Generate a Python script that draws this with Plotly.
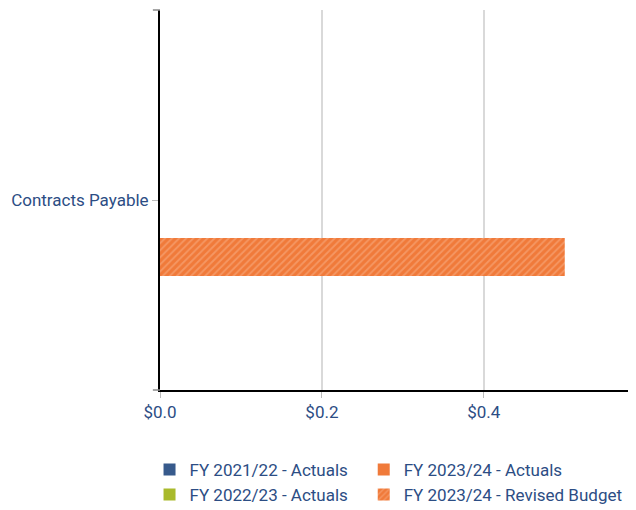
import plotly.graph_objects as go

categories = ["Contracts Payable"]
series_names = ["FY 2021/22 - Actuals", "FY 2022/23 - Actuals", "FY 2023/24 - Actuals", "FY 2023/24 - Revised Budget"]
fy2122_actuals = [0]
fy2223_actuals = [0]
fy2324_actuals = [0]
fy2324_budget = [0.5]

colors = ["#375a8c", "#a9ba2c", "#f07a3a", "#f07a3a"]
legend_ids = ["legend", "legend", "legend2", "legend2"]
values = [fy2122_actuals, fy2223_actuals, fy2324_actuals, fy2324_budget]

FONT = "Roboto"
TXT = "#2c4d84"
FS = 17

fig = go.Figure()
for i, (name, vals) in enumerate(zip(series_names, values)):
    marker = dict(color=colors[i], line=dict(width=0))
    if i == 3:
        marker["pattern"] = dict(shape="/", bgcolor="#f07a3a", fgcolor="#f9b48c", size=5, solidity=0.35)
        marker["color"] = "#f9b48c"
    fig.add_trace(go.Bar(
        y=categories, x=vals, name=name, orientation="h",
        marker=marker, legend=legend_ids[i],
    ))

leg_common = dict(orientation="v", yanchor="top", xanchor="left", itemwidth=30,
                  tracegroupgap=0, traceorder="normal", bgcolor="rgba(0,0,0,0)",
                  font=dict(family=FONT, size=FS, color=TXT))

fig.update_layout(
    width=628, height=502,
    margin=dict(l=152, r=0, t=2, b=120, autoexpand=False),
    plot_bgcolor="white", paper_bgcolor="white",
    barmode="group", bargap=0.6,
    font=dict(family=FONT, size=FS, color=TXT),
    showlegend=True,
    legend=dict(x=-0.022, y=-0.163, **leg_common),
    legend2=dict(x=0.428, y=-0.163, **leg_common),
    xaxis=dict(range=[0, 0.588], dtick=0.2, tickprefix="$", tickformat=".1f",
               showgrid=True, gridcolor="#d9d9d9", gridwidth=2,
               showline=True, linecolor="black", linewidth=2,
               ticks="outside", ticklen=6, tickcolor="#bbbbbb",
               zeroline=False, tickfont=dict(size=FS, color=TXT)),
    yaxis=dict(autorange="reversed", showline=True, linecolor="black", linewidth=2,
               ticks="outside", ticklen=6, tickcolor="#bbbbbb",
               tickfont=dict(size=FS, color=TXT)),
)
fig.add_shape(type="line", xref="paper", yref="paper", x0=-0.015, x1=0, y0=1, y1=1,
              line=dict(color="#888888", width=1.5))
fig.add_shape(type="line", xref="paper", yref="paper", x0=-0.015, x1=0, y0=0, y1=0,
              line=dict(color="#888888", width=1.5))

fig.write_html("out.html")
